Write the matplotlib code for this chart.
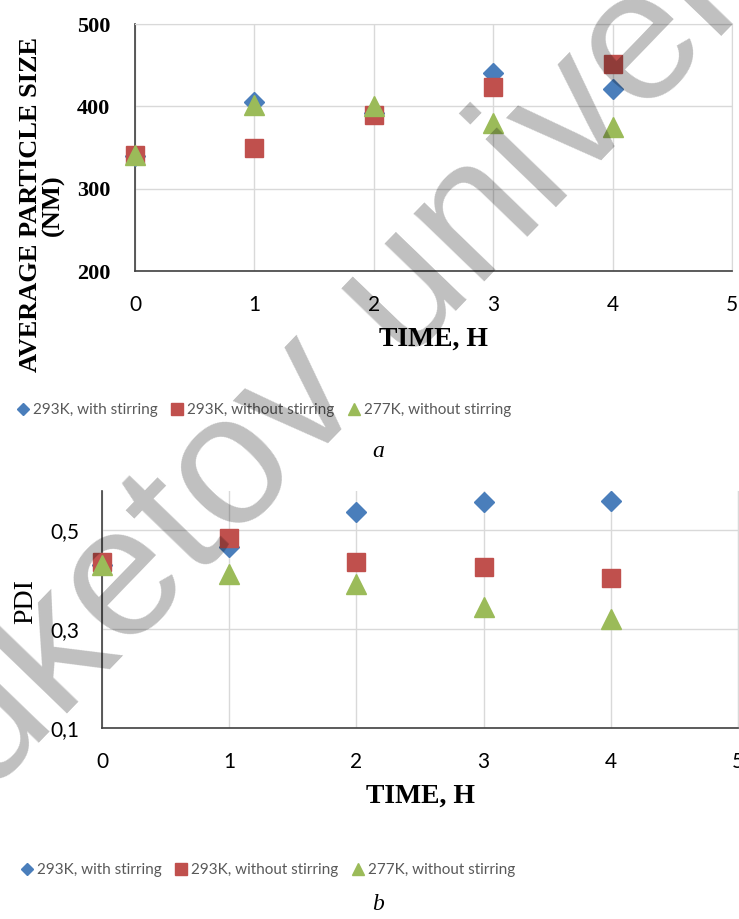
import matplotlib.pyplot as plt

time_h = [0, 1, 2, 3, 4]
size_293_stir = [340, 405, 392, 440, 421]
size_293_nostir = [341, 349, 389, 424, 451]
size_277_nostir = [341, 402, 400, 380, 375]
pdi_293_stir = [0.43, 0.465, 0.536, 0.557, 0.559]
pdi_293_nostir = [0.435, 0.485, 0.435, 0.425, 0.404]
pdi_277_nostir = [0.43, 0.412, 0.392, 0.344, 0.320]
labels = ['293K, with stirring', '293K, without stirring', '277K, without stirring']
size_ticks = [200, 300, 400, 500]
pdi_ticks = [0.1, 0.3, 0.5]
pdi_tick_labels = ['0,1', '0,3', '0,5']
x_ticks = [0, 1, 2, 3, 4, 5]

colors = ['#4a7ebb', '#c0504d', '#9bbb59']
markers = ['D', 's', '^']
msizes = [10, 13, 14]
serif = 'Liberation Serif'
sans = 'Lato'

fig = plt.figure(figsize=(7.39, 9.19), dpi=100)
ax1 = fig.add_axes([135 / 739, 1 - 271 / 919, 597 / 739, 247 / 919])
ax2 = fig.add_axes([102 / 739, 1 - 728 / 919, 636 / 739, 237 / 919])


def style(ax, top_line):
    ax.set_xlim(0, 5)
    ax.set_xticks(x_ticks)
    ax.grid(True, color='#d9d9d9', lw=1)
    ax.set_axisbelow(True)
    for s in ['left', 'bottom']:
        ax.spines[s].set_color('#404040')
        ax.spines[s].set_linewidth(1.2)
    ax.spines['right'].set_color('#d9d9d9')
    if top_line:
        ax.spines['top'].set_color('#d9d9d9')
    else:
        ax.spines['top'].set_visible(False)
    ax.tick_params(length=0, pad=17)
    for t in ax.get_xticklabels():
        t.set_fontfamily(sans)
        t.set_fontsize(15)


# chart a
for ys, c, m, ms, lab in zip([size_293_stir, size_293_nostir, size_277_nostir],
                             colors, markers, msizes, labels):
    ax1.plot(time_h, ys, ls='none', marker=m, ms=ms, color=c, mec=c, label=lab,
             clip_on=False, zorder=3)
ax1.set_ylim(200, 500)
ax1.set_yticks(size_ticks)
style(ax1, True)
for t in ax1.get_yticklabels():
    t.set_fontfamily(serif)
    t.set_fontweight('bold')
    t.set_fontsize(16)
ax1.tick_params(axis='y', pad=18)
ax1.set_xlabel('TIME, H', fontfamily=serif, fontweight='bold', fontsize=20, labelpad=9)
fig.text(42 / 739, 1 - 205 / 919, 'AVERAGE PARTICLE SIZE\n(NM)', rotation=90,
         ha='center', va='center', multialignment='center', linespacing=1.0,
         fontfamily=serif, fontweight='bold', fontsize=19)

h, l = ax1.get_legend_handles_labels()
leg_kw = dict(ncol=3, frameon=False, handlelength=0.8, handletextpad=0.25,
              columnspacing=0.9, markerscale=0.65, borderpad=0,
              prop={'family': sans, 'size': 11}, labelcolor='#595959')
fig.legend(h, l, loc='center', bbox_to_anchor=(264 / 739, 1 - 410 / 919), **leg_kw)
fig.text(378 / 739, 1 - 452 / 919, 'a', ha='center', va='center',
         fontfamily=serif, style='italic', fontsize=17)

# chart b
for ys, c, m, ms, lab in zip([pdi_293_stir, pdi_293_nostir, pdi_277_nostir],
                             colors, markers, msizes, labels):
    ax2.plot(time_h, ys, ls='none', marker=m, ms=ms, color=c, mec=c, label=lab,
             clip_on=False, zorder=3)
ax2.set_ylim(0.1, 0.579)
ax2.set_yticks(pdi_ticks)
ax2.set_yticklabels(pdi_tick_labels)
style(ax2, False)
for t in ax2.get_yticklabels():
    t.set_fontfamily(sans)
    t.set_fontsize(15)
ax2.tick_params(axis='y', pad=16)
ax2.set_xlabel('TIME, H', fontfamily=serif, fontweight='bold', fontsize=20, labelpad=9)
fig.text(26 / 739, 1 - 602 / 919, 'PDI', rotation=90, ha='center', va='center',
         fontfamily=serif, fontsize=20)

h, l = ax2.get_legend_handles_labels()
fig.legend(h, l, loc='center', bbox_to_anchor=(268 / 739, 1 - 870 / 919), **leg_kw)
fig.text(378 / 739, 1 - 905 / 919, 'b', ha='center', va='center',
         fontfamily=serif, style='italic', fontsize=17)

# watermark
fig.text(-99 / 739, 1 - 886 / 919, 'Buketov university', rotation=46,
         rotation_mode='anchor', ha='left', va='baseline',
         fontfamily='Liberation Sans', fontsize=134, color='black', alpha=0.25,
         zorder=10)

fig.savefig('out.png', dpi=100)
